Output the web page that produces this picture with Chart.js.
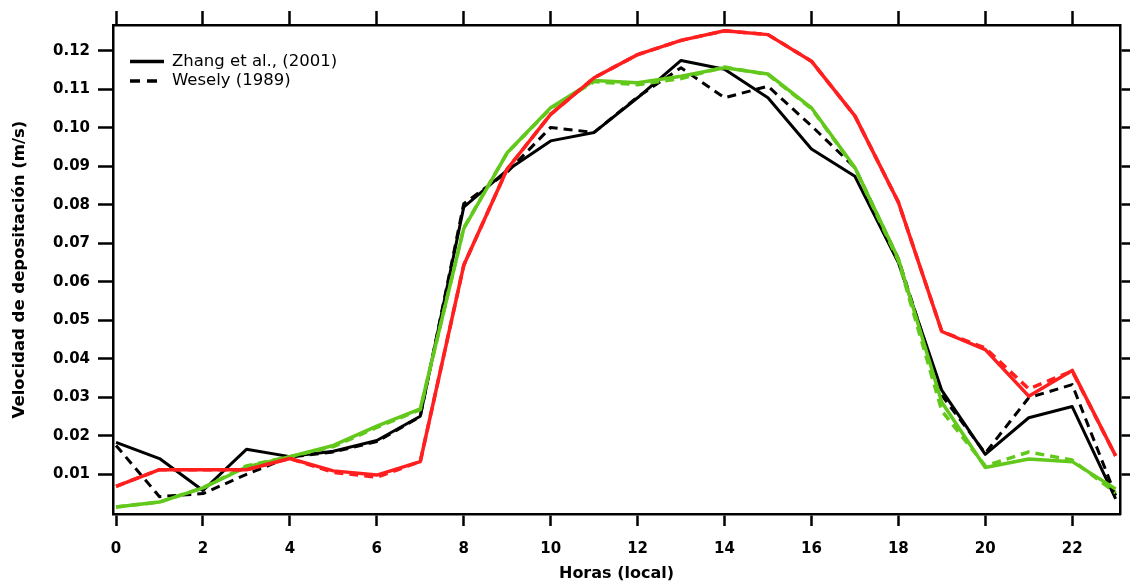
<!DOCTYPE html>
<html>
<head>
<meta charset="utf-8">
<script src="https://cdn.jsdelivr.net/npm/chart.js@4/dist/chart.umd.min.js"></script>
<style>
  html, body { margin: 0; padding: 0; background: #fff; }
  #wrap { width: 1130px; height: 584px; position: relative; }
</style>
</head>
<body>
<div id="wrap"><canvas id="grafico"></canvas></div>
<script>
// horas del día
const horas = [0,1,2,3,4,5,6,7,8,9,10,11,12,13,14,15,16,17,18,19,20,21,22,23];

// velocidades de depositación (m/s)
const zhangNegro  = [0.0183,0.0141,0.0058,0.0165,0.0146,0.0160,0.0188,0.0251,0.0794,0.0890,0.0966,0.0988,0.1078,0.1175,0.1152,0.1078,0.0945,0.0874,0.0650,0.0318,0.0152,0.0247,0.0276,0.0036];
const weselyNegro = [0.0175,0.0042,0.0050,0.0100,0.0145,0.0158,0.0185,0.0250,0.0803,0.0885,0.1001,0.0988,0.1080,0.1156,0.1078,0.1108,0.1005,0.0897,0.0660,0.0305,0.0155,0.0299,0.0333,0.0045];
const zhangRojo   = [0.0069,0.0112,0.0112,0.0112,0.0141,0.0109,0.0098,0.0133,0.0643,0.0893,0.1035,0.1130,0.1190,0.1227,0.1252,0.1242,0.1173,0.1031,0.0807,0.0471,0.0424,0.0303,0.0370,0.0148];
const weselyRojo  = [0.0069,0.0112,0.0112,0.0112,0.0141,0.0105,0.0093,0.0133,0.0643,0.0893,0.1035,0.1130,0.1190,0.1227,0.1252,0.1242,0.1173,0.1031,0.0807,0.0471,0.0428,0.0322,0.0368,0.0148];
const zhangVerde  = [0.0015,0.0028,0.0065,0.0119,0.0146,0.0175,0.0225,0.0270,0.0738,0.0935,0.1052,0.1123,0.1117,0.1134,0.1156,0.1140,0.1052,0.0897,0.0660,0.0287,0.0118,0.0140,0.0133,0.0062];
const weselyVerde = [0.0015,0.0028,0.0065,0.0122,0.0146,0.0172,0.0222,0.0268,0.0740,0.0935,0.1050,0.1120,0.1112,0.1128,0.1158,0.1138,0.1050,0.0895,0.0655,0.0265,0.0122,0.0158,0.0137,0.0052];

const ticksX = [0,2,4,6,8,10,12,14,16,18,20,22];
const ticksY = [0.01,0.02,0.03,0.04,0.05,0.06,0.07,0.08,0.09,0.10,0.11,0.12];

const leyenda = [
  { texto: 'Zhang et al., (2001)', dash: [] },
  { texto: 'Wesely (1989)', dash: [10, 7] }
];

const ROJO = '#ff1f1f', VERDE = '#62c91c', NEGRO = '#000';
const FUENTE = "'DejaVu Sans', sans-serif";

function serie(label, valores, color, dash, grosor) {
  return {
    label: label,
    data: horas.map((h, i) => ({ x: h, y: valores[i] })),
    borderColor: color,
    borderWidth: grosor || 3,
    borderDash: dash,
    borderJoinStyle: 'round',
    pointRadius: 0,
    fill: false,
    tension: 0
  };
}

// eje con marcas hacia afuera, sin rejilla
function eje(pos, extra) {
  return Object.assign({
    position: pos,
    grid: { drawOnChartArea: false, drawTicks: true, tickLength: 14, tickWidth: 2.5, tickColor: NEGRO },
    border: { display: true, color: NEGRO, width: 2.5 }
  }, extra);
}

const fijarTicks = (lista) => (s) => { s.ticks = lista.map(v => ({ value: v })); };
const ancho = (w) => (s) => { s.width = w; };
const alto = (h) => (s) => { s.height = h; };

// leyenda dibujada dentro del área del gráfico
const pluginLeyenda = {
  id: 'leyendaInterna',
  afterDraw(chart) {
    const ctx = chart.ctx;
    ctx.save();
    ctx.font = "16.5px " + FUENTE;
    ctx.textBaseline = 'middle';
    ctx.fillStyle = NEGRO;
    leyenda.forEach((l, i) => {
      const y = 61.5 + i * 19.5;
      ctx.beginPath();
      ctx.setLineDash(l.dash);
      ctx.lineWidth = 3.5;
      ctx.strokeStyle = NEGRO;
      ctx.moveTo(130, y);
      ctx.lineTo(164, y);
      ctx.stroke();
      ctx.setLineDash([]);
      ctx.fillText(l.texto, 172, y);
    });
    ctx.restore();
  }
};

new Chart(document.getElementById('grafico'), {
  type: 'line',
  data: {
    datasets: [
      serie('Zhang et al., (2001) rojo', zhangRojo, ROJO, [], 3.5),
      serie('Wesely (1989) rojo', weselyRojo, ROJO, [9, 6], 3.5),
      serie('Zhang et al., (2001) verde', zhangVerde, VERDE, [], 3.5),
      serie('Wesely (1989) verde', weselyVerde, VERDE, [9, 6], 3.5),
      serie('Zhang et al., (2001)', zhangNegro, NEGRO, []),
      serie('Wesely (1989)', weselyNegro, NEGRO, [9, 6])
    ]
  },
  options: {
    responsive: true,
    maintainAspectRatio: false,
    animation: false,
    layout: { padding: 0 },
    plugins: { legend: { display: false }, tooltip: { enabled: false } },
    scales: {
      x: eje('bottom', {
        type: 'linear', min: -0.07, max: 23.1,
        afterBuildTicks: fijarTicks(ticksX),
        afterFit: alto(70),
        grid: { drawOnChartArea: false, tickLength: 12, tickWidth: 2.5, tickColor: NEGRO },
        ticks: { color: NEGRO, padding: 14, maxRotation: 0, font: { family: FUENTE, size: 15, weight: 'bold' } },
        title: { display: true, text: 'Horas (local)', color: NEGRO, padding: { top: 0, bottom: 1 }, font: { family: FUENTE, size: 16, weight: 'bold' } }
      }),
      xArriba: eje('top', {
        type: 'linear', min: -0.07, max: 23.1,
        afterBuildTicks: fijarTicks(ticksX),
        afterFit: alto(25),
        ticks: { display: false }
      }),
      y: eje('left', {
        type: 'linear', min: -0.0003, max: 0.1267,
        afterBuildTicks: fijarTicks(ticksY),
        afterFit: ancho(113),
        grid: { drawOnChartArea: false, tickLength: 15, tickWidth: 2.5, tickColor: NEGRO },
        ticks: { color: NEGRO, padding: 8, callback: (v) => v.toFixed(2), font: { family: FUENTE, size: 15, weight: 'bold' } },
        title: { display: true, text: 'Velocidad de depositación (m/s)', color: NEGRO, padding: { top: 10, bottom: 0 }, font: { family: FUENTE, size: 16.5, weight: 'bold' } }
      }),
      yDerecha: eje('right', {
        type: 'linear', min: -0.0003, max: 0.1267,
        afterBuildTicks: fijarTicks(ticksY),
        afterFit: ancho(10),
        grid: { drawOnChartArea: false, tickLength: 10, tickWidth: 2.5, tickColor: NEGRO },
        ticks: { display: false }
      })
    }
  },
  plugins: [pluginLeyenda]
});
</script>
</body>
</html>
